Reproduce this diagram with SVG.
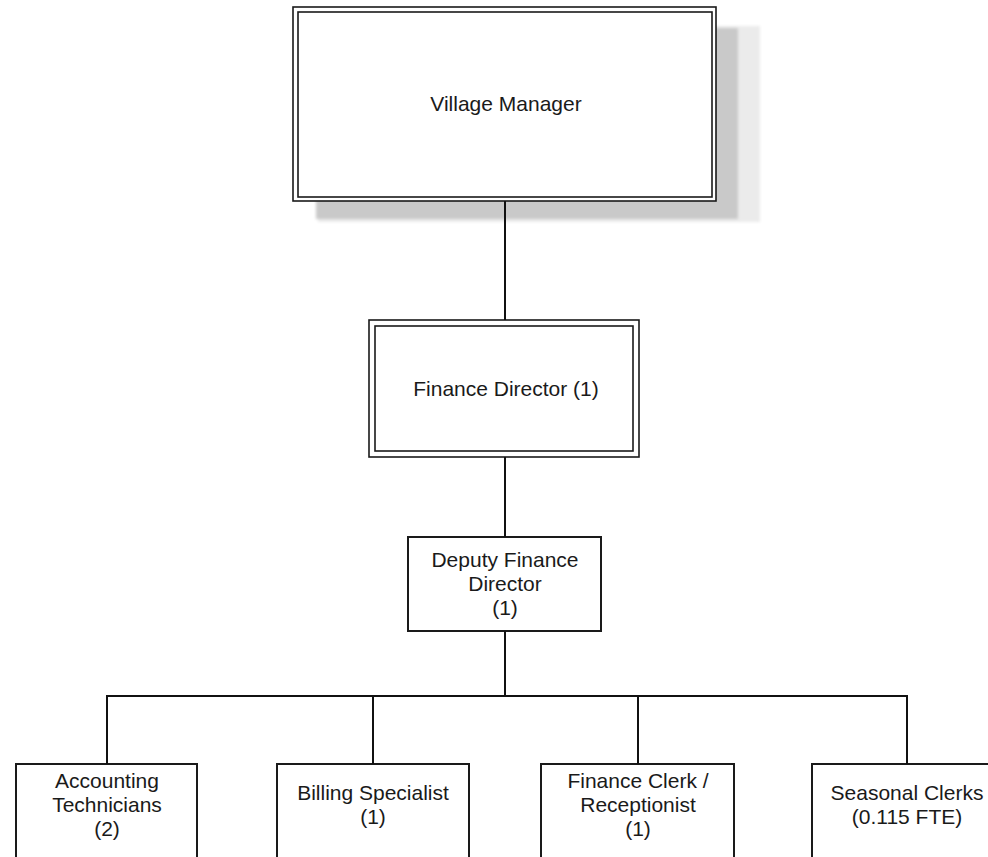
<svg xmlns="http://www.w3.org/2000/svg" width="988" height="857" viewBox="0 0 988 857">
  <defs>
    <filter id="soft" x="-5%" y="-5%" width="110%" height="110%">
      <feGaussianBlur stdDeviation="1.5"/>
    </filter>
  </defs>
  <style>
    .box { fill: #ffffff; stroke: #1a1a1a; stroke-width: 2; }
    .frame { fill: #ffffff; stroke: #1a1a1a; stroke-width: 1.6; }
    .thin { fill: none; stroke: #1a1a1a; stroke-width: 1.6; }
    .wire { fill: none; stroke: #111111; stroke-width: 2; }
    .label { font-family: "Liberation Sans", Arial, sans-serif; font-size: 21px; fill: #1a1a1a; text-anchor: middle; }
  </style>

  <rect width="988" height="857" fill="#ffffff"/>

  <!-- top node with drop shadow -->
  <g id="village-manager">
    <g filter="url(#soft)">
      <rect x="318" y="26" width="442" height="196" fill="#ebebeb"/>
      <rect x="316" y="28" width="422" height="191" fill="#c9c9c9"/>
    </g>
    <rect class="frame" x="293" y="7" width="423" height="194"/>
    <rect class="thin" x="298" y="12" width="414" height="185"/>
    <text class="label" x="506" y="111">Village Manager</text>
  </g>

  <g id="finance-director">
    <rect class="frame" x="369" y="320" width="270" height="137"/>
    <rect class="thin" x="375" y="326" width="258" height="125"/>
    <text class="label" x="506" y="396">Finance Director (1)</text>
  </g>

  <g id="deputy-finance-director">
    <rect class="box" x="408" y="537" width="193" height="94"/>
    <text class="label" x="505" y="567">Deputy Finance</text>
    <text class="label" x="505" y="591">Director</text>
    <text class="label" x="505" y="615">(1)</text>
  </g>

  <g id="accounting-technicians">
    <rect class="box" x="16" y="764" width="181" height="110"/>
    <text class="label" x="107" y="788">Accounting</text>
    <text class="label" x="107" y="812">Technicians</text>
    <text class="label" x="107" y="836">(2)</text>
  </g>

  <g id="billing-specialist">
    <rect class="box" x="277" y="764" width="192" height="110"/>
    <text class="label" x="373" y="800">Billing Specialist</text>
    <text class="label" x="373" y="824">(1)</text>
  </g>

  <g id="finance-clerk">
    <rect class="box" x="541" y="764" width="193" height="110"/>
    <text class="label" x="638" y="788">Finance Clerk /</text>
    <text class="label" x="638" y="812">Receptionist</text>
    <text class="label" x="638" y="836">(1)</text>
  </g>

  <g id="seasonal-clerks">
    <rect class="box" x="812" y="764" width="192" height="110"/>
    <text class="label" x="907" y="800">Seasonal Clerks</text>
    <text class="label" x="907" y="824">(0.115 FTE)</text>
  </g>

  <!-- connectors -->
  <g id="connectors">
    <line class="wire" x1="505" y1="201" x2="505" y2="320"/>
    <line class="wire" x1="505" y1="457" x2="505" y2="537"/>
    <line class="wire" x1="505" y1="631" x2="505" y2="696"/>
    <line class="wire" x1="106" y1="696" x2="908" y2="696"/>
    <line class="wire" x1="107" y1="695" x2="107" y2="764"/>
    <line class="wire" x1="373" y1="695" x2="373" y2="764"/>
    <line class="wire" x1="638" y1="695" x2="638" y2="764"/>
    <line class="wire" x1="907" y1="695" x2="907" y2="764"/>
  </g>
</svg>
